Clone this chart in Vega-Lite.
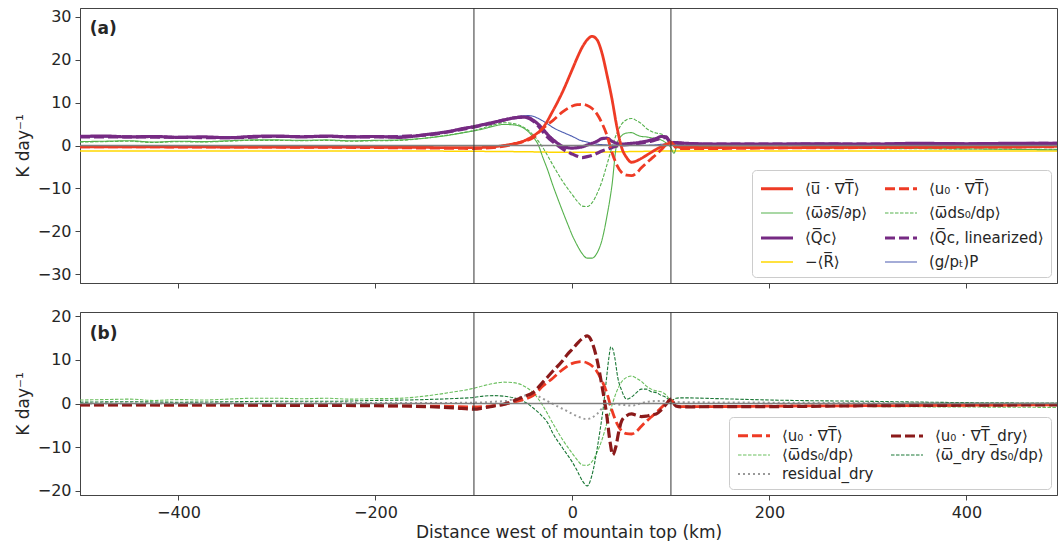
{
  "$schema": "https://vega.github.io/schema/vega-lite/v6.json",
  "padding": {"left": 13, "top": 7, "right": 1, "bottom": 0},
  "spacing": 29,
  "bounds": "flush",
  "config": {
    "font": "DejaVu Sans",
    "view": {"stroke": "#444", "strokeWidth": 1},
    "axis": {"labelFont": "DejaVu Sans", "labelFontSize": 16, "labelColor": "#262626", "titleFont": "DejaVu Sans", "titleFontSize": 17, "titleFontWeight": "normal", "titleColor": "#262626", "domainColor": "#444", "tickColor": "#444", "tickSize": 5, "labelPadding": 4, "titlePadding": 5, "grid": false},
    "legend": {"orient": "bottom-right", "offset": 6, "fillColor": "white", "strokeColor": "#cccccc", "cornerRadius": 4, "padding": 7, "columns": 2, "columnPadding": 10, "rowPadding": 5, "labelFont": "DejaVu Sans", "labelFontSize": 15, "labelColor": "#262626", "symbolType": "M-1,0H2.2", "symbolSize": 400, "labelLimit": 300, "labelOffset": 22}
  },
  "datasets": {
    "a": [
      {"k":"R","x":-500,"v":-1.3},{"k":"R","x":-300,"v":-1.3},{"k":"R","x":-150,"v":-1.3},{"k":"R","x":-100,"v":-1.35},{"k":"R","x":-50,"v":-1.45},{"k":"R","x":0,"v":-1.6},{"k":"R","x":50,"v":-1.45},{"k":"R","x":100,"v":-1.3},{"k":"R","x":200,"v":-1.3},{"k":"R","x":492,"v":-1.3},
      {"k":"gP","x":-500,"v":2.0},{"k":"gP","x":-400,"v":2.0},{"k":"gP","x":-300,"v":2.1},{"k":"gP","x":-200,"v":2.1},{"k":"gP","x":-150,"v":2.4},{"k":"gP","x":-125,"v":3.2},{"k":"gP","x":-100,"v":4.3},{"k":"gP","x":-80,"v":5.3},{"k":"gP","x":-70,"v":5.9},{"k":"gP","x":-60,"v":6.5},{"k":"gP","x":-50,"v":6.9},{"k":"gP","x":-45,"v":6.95},{"k":"gP","x":-40,"v":6.8},{"k":"gP","x":-33,"v":6.1},{"k":"gP","x":-25,"v":5.0},{"k":"gP","x":-20,"v":4.2},{"k":"gP","x":-15,"v":3.6},{"k":"gP","x":-10,"v":3.1},{"k":"gP","x":-5,"v":2.6},{"k":"gP","x":0,"v":2.1},{"k":"gP","x":8,"v":1.2},{"k":"gP","x":15,"v":0.8},{"k":"gP","x":20,"v":0.5},{"k":"gP","x":30,"v":0.2},{"k":"gP","x":40,"v":0.1},{"k":"gP","x":60,"v":0.0},{"k":"gP","x":80,"v":0.1},{"k":"gP","x":100,"v":0.4},{"k":"gP","x":110,"v":0.4},{"k":"gP","x":150,"v":0.3},{"k":"gP","x":200,"v":0.3},{"k":"gP","x":300,"v":0.3},{"k":"gP","x":400,"v":0.4},{"k":"gP","x":492,"v":0.4},
      {"k":"wds","x":-500,"v":0.9},{"k":"wds","x":-475,"v":1.0},{"k":"wds","x":-450,"v":1.1},{"k":"wds","x":-425,"v":0.8},{"k":"wds","x":-400,"v":1.0},{"k":"wds","x":-375,"v":0.9},{"k":"wds","x":-350,"v":1.1},{"k":"wds","x":-325,"v":1.3},{"k":"wds","x":-300,"v":1.3},{"k":"wds","x":-275,"v":1.2},{"k":"wds","x":-250,"v":1.3},{"k":"wds","x":-225,"v":1.1},{"k":"wds","x":-200,"v":1.2},{"k":"wds","x":-175,"v":1.3},{"k":"wds","x":-150,"v":1.7},{"k":"wds","x":-125,"v":2.4},{"k":"wds","x":-110,"v":3.0},{"k":"wds","x":-100,"v":3.4},{"k":"wds","x":-90,"v":3.9},{"k":"wds","x":-80,"v":4.5},{"k":"wds","x":-70,"v":4.9},{"k":"wds","x":-60,"v":4.8},{"k":"wds","x":-50,"v":4.1},{"k":"wds","x":-40,"v":2.0},{"k":"wds","x":-35,"v":0.3},{"k":"wds","x":-30,"v":-2.8},{"k":"wds","x":-25,"v":-5.8},{"k":"wds","x":-20,"v":-9.2},{"k":"wds","x":-15,"v":-12.3},{"k":"wds","x":-10,"v":-15.3},{"k":"wds","x":-5,"v":-18.2},{"k":"wds","x":0,"v":-21.0},{"k":"wds","x":5,"v":-23.3},{"k":"wds","x":10,"v":-25.2},{"k":"wds","x":15,"v":-26.2},{"k":"wds","x":20,"v":-26.2},{"k":"wds","x":25,"v":-25.0},{"k":"wds","x":30,"v":-22.0},{"k":"wds","x":35,"v":-16.5},{"k":"wds","x":40,"v":-9.5},{"k":"wds","x":45,"v":0.3},{"k":"wds","x":50,"v":2.3},{"k":"wds","x":55,"v":2.9},{"k":"wds","x":60,"v":3.0},{"k":"wds","x":65,"v":2.5},{"k":"wds","x":70,"v":2.1},{"k":"wds","x":75,"v":2.0},{"k":"wds","x":80,"v":1.8},{"k":"wds","x":85,"v":1.6},{"k":"wds","x":90,"v":1.3},{"k":"wds","x":95,"v":0.6},{"k":"wds","x":100,"v":-0.5},{"k":"wds","x":103,"v":-1.8},{"k":"wds","x":107,"v":0.2},{"k":"wds","x":112,"v":-0.1},{"k":"wds","x":125,"v":-0.2},{"k":"wds","x":150,"v":-0.3},{"k":"wds","x":200,"v":-0.4},{"k":"wds","x":250,"v":-0.5},{"k":"wds","x":300,"v":-0.6},{"k":"wds","x":350,"v":-0.7},{"k":"wds","x":400,"v":-0.8},{"k":"wds","x":450,"v":-0.9},{"k":"wds","x":492,"v":-1.0},
      {"k":"wds0","x":-500,"v":0.8},{"k":"wds0","x":-475,"v":0.9},{"k":"wds0","x":-450,"v":1.0},{"k":"wds0","x":-425,"v":0.7},{"k":"wds0","x":-400,"v":0.9},{"k":"wds0","x":-375,"v":0.8},{"k":"wds0","x":-350,"v":1.0},{"k":"wds0","x":-325,"v":1.2},{"k":"wds0","x":-300,"v":1.2},{"k":"wds0","x":-275,"v":1.1},{"k":"wds0","x":-250,"v":1.2},{"k":"wds0","x":-225,"v":1.0},{"k":"wds0","x":-200,"v":1.1},{"k":"wds0","x":-175,"v":1.2},{"k":"wds0","x":-150,"v":1.7},{"k":"wds0","x":-125,"v":2.5},{"k":"wds0","x":-100,"v":3.5},{"k":"wds0","x":-90,"v":4.1},{"k":"wds0","x":-80,"v":4.8},{"k":"wds0","x":-70,"v":5.3},{"k":"wds0","x":-60,"v":5.1},{"k":"wds0","x":-50,"v":4.3},{"k":"wds0","x":-40,"v":2.5},{"k":"wds0","x":-30,"v":-0.5},{"k":"wds0","x":-20,"v":-4.5},{"k":"wds0","x":-10,"v":-8.3},{"k":"wds0","x":0,"v":-11.5},{"k":"wds0","x":5,"v":-13.0},{"k":"wds0","x":10,"v":-14.1},{"k":"wds0","x":15,"v":-14.2},{"k":"wds0","x":20,"v":-13.3},{"k":"wds0","x":25,"v":-11.2},{"k":"wds0","x":30,"v":-8.3},{"k":"wds0","x":35,"v":-4.5},{"k":"wds0","x":40,"v":-0.5},{"k":"wds0","x":45,"v":2.8},{"k":"wds0","x":50,"v":5.0},{"k":"wds0","x":55,"v":6.0},{"k":"wds0","x":60,"v":6.3},{"k":"wds0","x":65,"v":5.8},{"k":"wds0","x":70,"v":5.1},{"k":"wds0","x":75,"v":4.0},{"k":"wds0","x":80,"v":3.3},{"k":"wds0","x":85,"v":2.9},{"k":"wds0","x":90,"v":2.7},{"k":"wds0","x":95,"v":2.0},{"k":"wds0","x":100,"v":0.5},{"k":"wds0","x":105,"v":-0.5},{"k":"wds0","x":110,"v":-0.6},{"k":"wds0","x":150,"v":-0.5},{"k":"wds0","x":200,"v":-0.5},{"k":"wds0","x":300,"v":-0.7},{"k":"wds0","x":400,"v":-0.8},{"k":"wds0","x":492,"v":-0.9},
      {"k":"Qcl","x":-500,"v":2.0},{"k":"Qcl","x":-450,"v":2.0},{"k":"Qcl","x":-400,"v":1.9},{"k":"Qcl","x":-350,"v":1.8},{"k":"Qcl","x":-300,"v":2.1},{"k":"Qcl","x":-250,"v":2.1},{"k":"Qcl","x":-200,"v":2.0},{"k":"Qcl","x":-150,"v":2.4},{"k":"Qcl","x":-125,"v":3.2},{"k":"Qcl","x":-100,"v":4.3},{"k":"Qcl","x":-80,"v":5.3},{"k":"Qcl","x":-70,"v":5.9},{"k":"Qcl","x":-60,"v":6.4},{"k":"Qcl","x":-50,"v":6.6},{"k":"Qcl","x":-45,"v":6.4},{"k":"Qcl","x":-40,"v":5.7},{"k":"Qcl","x":-35,"v":4.6},{"k":"Qcl","x":-30,"v":3.2},{"k":"Qcl","x":-25,"v":1.9},{"k":"Qcl","x":-20,"v":0.9},{"k":"Qcl","x":-15,"v":0.0},{"k":"Qcl","x":-10,"v":-0.8},{"k":"Qcl","x":-5,"v":-1.5},{"k":"Qcl","x":0,"v":-2.0},{"k":"Qcl","x":5,"v":-2.5},{"k":"Qcl","x":10,"v":-2.8},{"k":"Qcl","x":15,"v":-2.6},{"k":"Qcl","x":20,"v":-2.3},{"k":"Qcl","x":25,"v":-1.8},{"k":"Qcl","x":30,"v":-1.3},{"k":"Qcl","x":35,"v":-0.9},{"k":"Qcl","x":40,"v":-0.5},{"k":"Qcl","x":45,"v":-0.1},{"k":"Qcl","x":50,"v":0.1},{"k":"Qcl","x":60,"v":0.3},{"k":"Qcl","x":70,"v":0.6},{"k":"Qcl","x":80,"v":1.0},{"k":"Qcl","x":90,"v":1.7},{"k":"Qcl","x":95,"v":1.9},{"k":"Qcl","x":100,"v":0.6},{"k":"Qcl","x":110,"v":0.5},{"k":"Qcl","x":150,"v":0.3},{"k":"Qcl","x":200,"v":0.3},{"k":"Qcl","x":300,"v":0.3},{"k":"Qcl","x":400,"v":0.4},{"k":"Qcl","x":492,"v":0.5},
      {"k":"Qc","x":-500,"v":2.1},{"k":"Qc","x":-475,"v":2.2},{"k":"Qc","x":-450,"v":2.0},{"k":"Qc","x":-425,"v":2.1},{"k":"Qc","x":-400,"v":1.9},{"k":"Qc","x":-375,"v":2.0},{"k":"Qc","x":-350,"v":1.8},{"k":"Qc","x":-325,"v":2.1},{"k":"Qc","x":-300,"v":2.2},{"k":"Qc","x":-275,"v":2.0},{"k":"Qc","x":-250,"v":2.2},{"k":"Qc","x":-225,"v":2.0},{"k":"Qc","x":-200,"v":2.1},{"k":"Qc","x":-175,"v":1.9},{"k":"Qc","x":-160,"v":2.2},{"k":"Qc","x":-150,"v":2.5},{"k":"Qc","x":-125,"v":3.3},{"k":"Qc","x":-110,"v":4.0},{"k":"Qc","x":-100,"v":4.4},{"k":"Qc","x":-90,"v":4.9},{"k":"Qc","x":-80,"v":5.4},{"k":"Qc","x":-70,"v":5.9},{"k":"Qc","x":-60,"v":6.4},{"k":"Qc","x":-50,"v":6.6},{"k":"Qc","x":-45,"v":6.5},{"k":"Qc","x":-40,"v":5.9},{"k":"Qc","x":-35,"v":5.0},{"k":"Qc","x":-30,"v":3.8},{"k":"Qc","x":-25,"v":2.5},{"k":"Qc","x":-20,"v":1.4},{"k":"Qc","x":-15,"v":0.5},{"k":"Qc","x":-10,"v":-0.2},{"k":"Qc","x":-5,"v":-0.5},{"k":"Qc","x":0,"v":-0.6},{"k":"Qc","x":5,"v":-0.5},{"k":"Qc","x":10,"v":-0.3},{"k":"Qc","x":15,"v":0.1},{"k":"Qc","x":20,"v":0.5},{"k":"Qc","x":25,"v":1.0},{"k":"Qc","x":30,"v":1.6},{"k":"Qc","x":35,"v":1.7},{"k":"Qc","x":40,"v":1.0},{"k":"Qc","x":45,"v":0.5},{"k":"Qc","x":50,"v":0.3},{"k":"Qc","x":55,"v":0.4},{"k":"Qc","x":60,"v":0.5},{"k":"Qc","x":65,"v":0.6},{"k":"Qc","x":70,"v":0.8},{"k":"Qc","x":75,"v":1.0},{"k":"Qc","x":80,"v":1.3},{"k":"Qc","x":85,"v":1.6},{"k":"Qc","x":90,"v":2.1},{"k":"Qc","x":95,"v":2.0},{"k":"Qc","x":100,"v":0.6},{"k":"Qc","x":105,"v":0.7},{"k":"Qc","x":110,"v":0.6},{"k":"Qc","x":125,"v":0.4},{"k":"Qc","x":150,"v":0.3},{"k":"Qc","x":200,"v":0.3},{"k":"Qc","x":250,"v":0.4},{"k":"Qc","x":300,"v":0.3},{"k":"Qc","x":350,"v":0.5},{"k":"Qc","x":400,"v":0.4},{"k":"Qc","x":450,"v":0.5},{"k":"Qc","x":492,"v":0.5},
      {"k":"u0T","x":-500,"v":-0.3},{"k":"u0T","x":-400,"v":-0.35},{"k":"u0T","x":-300,"v":-0.4},{"k":"u0T","x":-200,"v":-0.5},{"k":"u0T","x":-150,"v":-0.6},{"k":"u0T","x":-125,"v":-0.65},{"k":"u0T","x":-100,"v":-0.7},{"k":"u0T","x":-80,"v":-0.5},{"k":"u0T","x":-70,"v":-0.2},{"k":"u0T","x":-60,"v":0.3},{"k":"u0T","x":-50,"v":0.9},{"k":"u0T","x":-40,"v":1.8},{"k":"u0T","x":-30,"v":4.0},{"k":"u0T","x":-20,"v":5.8},{"k":"u0T","x":-10,"v":7.8},{"k":"u0T","x":0,"v":9.2},{"k":"u0T","x":5,"v":9.5},{"k":"u0T","x":10,"v":9.6},{"k":"u0T","x":15,"v":9.3},{"k":"u0T","x":20,"v":8.6},{"k":"u0T","x":25,"v":7.3},{"k":"u0T","x":30,"v":5.2},{"k":"u0T","x":35,"v":2.4},{"k":"u0T","x":40,"v":-1.5},{"k":"u0T","x":45,"v":-4.5},{"k":"u0T","x":50,"v":-6.3},{"k":"u0T","x":55,"v":-6.9},{"k":"u0T","x":60,"v":-7.0},{"k":"u0T","x":65,"v":-6.4},{"k":"u0T","x":70,"v":-5.2},{"k":"u0T","x":75,"v":-4.1},{"k":"u0T","x":80,"v":-3.1},{"k":"u0T","x":85,"v":-2.1},{"k":"u0T","x":90,"v":-1.0},{"k":"u0T","x":95,"v":0.1},{"k":"u0T","x":100,"v":0.8},{"k":"u0T","x":105,"v":-0.5},{"k":"u0T","x":110,"v":-0.7},{"k":"u0T","x":150,"v":-0.7},{"k":"u0T","x":200,"v":-0.6},{"k":"u0T","x":300,"v":-0.5},{"k":"u0T","x":400,"v":-0.4},{"k":"u0T","x":492,"v":-0.3},
      {"k":"uT","x":-500,"v":-0.3},{"k":"uT","x":-450,"v":-0.3},{"k":"uT","x":-400,"v":-0.3},{"k":"uT","x":-350,"v":-0.35},{"k":"uT","x":-300,"v":-0.35},{"k":"uT","x":-250,"v":-0.4},{"k":"uT","x":-200,"v":-0.4},{"k":"uT","x":-150,"v":-0.45},{"k":"uT","x":-125,"v":-0.5},{"k":"uT","x":-100,"v":-0.5},{"k":"uT","x":-80,"v":-0.3},{"k":"uT","x":-70,"v":0.0},{"k":"uT","x":-60,"v":0.4},{"k":"uT","x":-50,"v":1.0},{"k":"uT","x":-40,"v":2.2},{"k":"uT","x":-30,"v":4.1},{"k":"uT","x":-20,"v":8.0},{"k":"uT","x":-10,"v":12.5},{"k":"uT","x":0,"v":17.8},{"k":"uT","x":5,"v":20.5},{"k":"uT","x":10,"v":22.9},{"k":"uT","x":15,"v":24.6},{"k":"uT","x":20,"v":25.4},{"k":"uT","x":25,"v":24.6},{"k":"uT","x":30,"v":21.5},{"k":"uT","x":35,"v":16.5},{"k":"uT","x":40,"v":11.0},{"k":"uT","x":45,"v":4.5},{"k":"uT","x":50,"v":-0.5},{"k":"uT","x":55,"v":-2.8},{"k":"uT","x":60,"v":-3.9},{"k":"uT","x":65,"v":-3.6},{"k":"uT","x":70,"v":-3.0},{"k":"uT","x":75,"v":-2.3},{"k":"uT","x":80,"v":-1.6},{"k":"uT","x":85,"v":-0.9},{"k":"uT","x":90,"v":-0.3},{"k":"uT","x":95,"v":0.3},{"k":"uT","x":100,"v":0.5},{"k":"uT","x":105,"v":-0.2},{"k":"uT","x":110,"v":-0.4},{"k":"uT","x":150,"v":-0.5},{"k":"uT","x":200,"v":-0.5},{"k":"uT","x":250,"v":-0.45},{"k":"uT","x":300,"v":-0.4},{"k":"uT","x":350,"v":-0.4},{"k":"uT","x":400,"v":-0.3},{"k":"uT","x":450,"v":-0.3},{"k":"uT","x":492,"v":-0.2}
    ],
    "b": [
      {"k":"res","x":-500,"v":0.0},{"k":"res","x":-400,"v":0.0},{"k":"res","x":-300,"v":0.0},{"k":"res","x":-200,"v":0.1},{"k":"res","x":-150,"v":0.1},{"k":"res","x":-100,"v":0.2},{"k":"res","x":-80,"v":0.4},{"k":"res","x":-67,"v":0.6},{"k":"res","x":-60,"v":1.0},{"k":"res","x":-53,"v":1.5},{"k":"res","x":-45,"v":2.0},{"k":"res","x":-40,"v":2.1},{"k":"res","x":-35,"v":1.7},{"k":"res","x":-30,"v":1.1},{"k":"res","x":-26,"v":0.6},{"k":"res","x":-20,"v":-0.1},{"k":"res","x":-13,"v":-0.9},{"k":"res","x":-5,"v":-1.8},{"k":"res","x":0,"v":-2.4},{"k":"res","x":8,"v":-3.2},{"k":"res","x":14,"v":-3.6},{"k":"res","x":20,"v":-3.2},{"k":"res","x":25,"v":-2.4},{"k":"res","x":31,"v":-0.9},{"k":"res","x":36,"v":-0.3},{"k":"res","x":41,"v":-0.1},{"k":"res","x":50,"v":-0.3},{"k":"res","x":61,"v":-0.5},{"k":"res","x":66,"v":-0.2},{"k":"res","x":72,"v":0.2},{"k":"res","x":80,"v":0.5},{"k":"res","x":90,"v":0.6},{"k":"res","x":100,"v":0.4},{"k":"res","x":110,"v":0.3},{"k":"res","x":200,"v":0.2},{"k":"res","x":300,"v":0.1},{"k":"res","x":492,"v":0.0},
      {"k":"wds0","x":-500,"v":0.8},{"k":"wds0","x":-475,"v":0.9},{"k":"wds0","x":-450,"v":1.0},{"k":"wds0","x":-425,"v":0.7},{"k":"wds0","x":-400,"v":0.9},{"k":"wds0","x":-375,"v":0.8},{"k":"wds0","x":-350,"v":1.0},{"k":"wds0","x":-325,"v":1.2},{"k":"wds0","x":-300,"v":1.2},{"k":"wds0","x":-275,"v":1.1},{"k":"wds0","x":-250,"v":1.2},{"k":"wds0","x":-225,"v":1.0},{"k":"wds0","x":-200,"v":1.1},{"k":"wds0","x":-175,"v":1.2},{"k":"wds0","x":-150,"v":1.7},{"k":"wds0","x":-125,"v":2.5},{"k":"wds0","x":-100,"v":3.5},{"k":"wds0","x":-90,"v":4.1},{"k":"wds0","x":-80,"v":4.6},{"k":"wds0","x":-70,"v":4.9},{"k":"wds0","x":-60,"v":4.8},{"k":"wds0","x":-50,"v":4.1},{"k":"wds0","x":-40,"v":2.5},{"k":"wds0","x":-30,"v":-0.5},{"k":"wds0","x":-20,"v":-4.5},{"k":"wds0","x":-10,"v":-8.3},{"k":"wds0","x":0,"v":-11.5},{"k":"wds0","x":5,"v":-13.0},{"k":"wds0","x":10,"v":-14.1},{"k":"wds0","x":15,"v":-14.2},{"k":"wds0","x":20,"v":-13.3},{"k":"wds0","x":25,"v":-11.2},{"k":"wds0","x":30,"v":-8.3},{"k":"wds0","x":35,"v":-4.5},{"k":"wds0","x":40,"v":-0.5},{"k":"wds0","x":45,"v":2.8},{"k":"wds0","x":50,"v":5.0},{"k":"wds0","x":55,"v":6.0},{"k":"wds0","x":60,"v":6.3},{"k":"wds0","x":65,"v":5.8},{"k":"wds0","x":70,"v":5.1},{"k":"wds0","x":75,"v":4.0},{"k":"wds0","x":80,"v":3.3},{"k":"wds0","x":85,"v":2.9},{"k":"wds0","x":90,"v":2.7},{"k":"wds0","x":95,"v":2.0},{"k":"wds0","x":100,"v":0.5},{"k":"wds0","x":105,"v":-0.5},{"k":"wds0","x":110,"v":-0.6},{"k":"wds0","x":150,"v":-0.5},{"k":"wds0","x":200,"v":-0.5},{"k":"wds0","x":300,"v":-0.7},{"k":"wds0","x":400,"v":-0.8},{"k":"wds0","x":492,"v":-0.9},
      {"k":"wds0d","x":-500,"v":0.3},{"k":"wds0d","x":-450,"v":0.4},{"k":"wds0d","x":-400,"v":0.3},{"k":"wds0d","x":-350,"v":0.4},{"k":"wds0d","x":-300,"v":0.5},{"k":"wds0d","x":-250,"v":0.5},{"k":"wds0d","x":-200,"v":0.7},{"k":"wds0d","x":-150,"v":0.9},{"k":"wds0d","x":-125,"v":1.1},{"k":"wds0d","x":-100,"v":1.4},{"k":"wds0d","x":-90,"v":1.7},{"k":"wds0d","x":-80,"v":1.8},{"k":"wds0d","x":-70,"v":1.7},{"k":"wds0d","x":-60,"v":1.3},{"k":"wds0d","x":-50,"v":0.5},{"k":"wds0d","x":-45,"v":-0.1},{"k":"wds0d","x":-40,"v":-1.0},{"k":"wds0d","x":-33,"v":-2.4},{"k":"wds0d","x":-25,"v":-4.5},{"k":"wds0d","x":-20,"v":-6.8},{"k":"wds0d","x":-10,"v":-10.2},{"k":"wds0d","x":0,"v":-13.5},{"k":"wds0d","x":5,"v":-15.5},{"k":"wds0d","x":10,"v":-17.7},{"k":"wds0d","x":15,"v":-18.9},{"k":"wds0d","x":20,"v":-16.3},{"k":"wds0d","x":25,"v":-10.5},{"k":"wds0d","x":28,"v":-6.2},{"k":"wds0d","x":31,"v":-1.5},{"k":"wds0d","x":34,"v":4.5},{"k":"wds0d","x":37,"v":10.5},{"k":"wds0d","x":39,"v":13.0},{"k":"wds0d","x":41,"v":12.5},{"k":"wds0d","x":43,"v":10.5},{"k":"wds0d","x":46,"v":6.0},{"k":"wds0d","x":50,"v":3.0},{"k":"wds0d","x":55,"v":1.0},{"k":"wds0d","x":60,"v":1.5},{"k":"wds0d","x":65,"v":2.5},{"k":"wds0d","x":70,"v":3.3},{"k":"wds0d","x":75,"v":3.3},{"k":"wds0d","x":80,"v":2.7},{"k":"wds0d","x":85,"v":2.5},{"k":"wds0d","x":90,"v":1.9},{"k":"wds0d","x":95,"v":1.4},{"k":"wds0d","x":100,"v":0.6},{"k":"wds0d","x":105,"v":1.2},{"k":"wds0d","x":110,"v":1.3},{"k":"wds0d","x":150,"v":1.1},{"k":"wds0d","x":200,"v":0.8},{"k":"wds0d","x":300,"v":0.5},{"k":"wds0d","x":400,"v":0.2},{"k":"wds0d","x":492,"v":0.1},
      {"k":"u0T","x":-500,"v":-0.3},{"k":"u0T","x":-400,"v":-0.35},{"k":"u0T","x":-300,"v":-0.4},{"k":"u0T","x":-200,"v":-0.5},{"k":"u0T","x":-150,"v":-0.6},{"k":"u0T","x":-125,"v":-0.65},{"k":"u0T","x":-100,"v":-0.8},{"k":"u0T","x":-80,"v":-0.5},{"k":"u0T","x":-70,"v":-0.2},{"k":"u0T","x":-60,"v":0.3},{"k":"u0T","x":-50,"v":0.9},{"k":"u0T","x":-40,"v":1.8},{"k":"u0T","x":-30,"v":4.0},{"k":"u0T","x":-20,"v":5.8},{"k":"u0T","x":-10,"v":7.8},{"k":"u0T","x":0,"v":9.2},{"k":"u0T","x":5,"v":9.5},{"k":"u0T","x":10,"v":9.6},{"k":"u0T","x":15,"v":9.3},{"k":"u0T","x":20,"v":8.6},{"k":"u0T","x":25,"v":7.3},{"k":"u0T","x":30,"v":5.2},{"k":"u0T","x":35,"v":2.4},{"k":"u0T","x":40,"v":-1.5},{"k":"u0T","x":45,"v":-4.5},{"k":"u0T","x":50,"v":-6.3},{"k":"u0T","x":55,"v":-6.9},{"k":"u0T","x":60,"v":-7.0},{"k":"u0T","x":65,"v":-6.4},{"k":"u0T","x":70,"v":-5.2},{"k":"u0T","x":75,"v":-4.1},{"k":"u0T","x":80,"v":-3.1},{"k":"u0T","x":85,"v":-2.1},{"k":"u0T","x":90,"v":-1.0},{"k":"u0T","x":95,"v":0.1},{"k":"u0T","x":100,"v":0.8},{"k":"u0T","x":105,"v":-0.5},{"k":"u0T","x":110,"v":-0.7},{"k":"u0T","x":150,"v":-0.7},{"k":"u0T","x":200,"v":-0.6},{"k":"u0T","x":300,"v":-0.5},{"k":"u0T","x":400,"v":-0.4},{"k":"u0T","x":492,"v":-0.3},
      {"k":"u0Td","x":-500,"v":-0.3},{"k":"u0Td","x":-400,"v":-0.3},{"k":"u0Td","x":-300,"v":-0.4},{"k":"u0Td","x":-200,"v":-0.5},{"k":"u0Td","x":-150,"v":-0.7},{"k":"u0Td","x":-120,"v":-1.0},{"k":"u0Td","x":-100,"v":-1.3},{"k":"u0Td","x":-90,"v":-1.0},{"k":"u0Td","x":-80,"v":-0.6},{"k":"u0Td","x":-70,"v":-0.2},{"k":"u0Td","x":-60,"v":0.6},{"k":"u0Td","x":-50,"v":1.5},{"k":"u0Td","x":-40,"v":2.5},{"k":"u0Td","x":-30,"v":4.9},{"k":"u0Td","x":-20,"v":7.4},{"k":"u0Td","x":-10,"v":9.8},{"k":"u0Td","x":-5,"v":11.3},{"k":"u0Td","x":0,"v":12.5},{"k":"u0Td","x":5,"v":13.8},{"k":"u0Td","x":10,"v":14.9},{"k":"u0Td","x":15,"v":15.5},{"k":"u0Td","x":20,"v":14.0},{"k":"u0Td","x":25,"v":10.0},{"k":"u0Td","x":30,"v":4.0},{"k":"u0Td","x":35,"v":-3.0},{"k":"u0Td","x":38,"v":-8.5},{"k":"u0Td","x":41,"v":-11.8},{"k":"u0Td","x":44,"v":-10.0},{"k":"u0Td","x":47,"v":-6.5},{"k":"u0Td","x":50,"v":-4.0},{"k":"u0Td","x":55,"v":-2.8},{"k":"u0Td","x":60,"v":-2.4},{"k":"u0Td","x":65,"v":-2.7},{"k":"u0Td","x":70,"v":-3.0},{"k":"u0Td","x":75,"v":-2.9},{"k":"u0Td","x":80,"v":-2.6},{"k":"u0Td","x":85,"v":-2.4},{"k":"u0Td","x":90,"v":-1.5},{"k":"u0Td","x":95,"v":-0.2},{"k":"u0Td","x":100,"v":1.0},{"k":"u0Td","x":105,"v":-0.6},{"k":"u0Td","x":110,"v":-0.8},{"k":"u0Td","x":150,"v":-0.7},{"k":"u0Td","x":200,"v":-0.7},{"k":"u0Td","x":300,"v":-0.5},{"k":"u0Td","x":400,"v":-0.4},{"k":"u0Td","x":492,"v":-0.3}
    ]
  },
  "resolve": {"scale": {"color": "independent", "strokeDash": "independent", "strokeWidth": "independent", "y": "independent"}, "legend": {"color": "independent", "strokeDash": "independent", "strokeWidth": "independent"}},
  "vconcat": [
    {
      "width": 977,
      "height": 275,
      "layer": [
        {
          "data": {"name": "a"},
          "mark": {"type": "line", "interpolate": "monotone"},
          "encoding": {
            "x": {"field": "x", "type": "quantitative", "scale": {"domain": [-500, 492], "nice": false, "zero": false}, "axis": {"values": [-400, -200, 0, 200, 400], "labels": false, "title": null}},
            "y": {"field": "v", "type": "quantitative", "scale": {"domain": [-32, 32], "nice": false, "zero": false}, "axis": {"values": [-30, -20, -10, 0, 10, 20, 30], "title": "K day⁻¹", "labelExpr": "replace(datum.label, '-', '−')"}},
            "color": {"field": "k", "type": "nominal", "scale": {"domain": ["uT", "wds", "Qc", "R", "u0T", "wds0", "Qcl", "gP"], "range": ["#ee3b25", "#55b14c", "#762a83", "#ffd700", "#ee3b25", "#55b14c", "#762a83", "#4a5ab0"]}, "legend": {"title": null, "labelExpr": "datum.label=='uT'?'⟨u̅ · ∇T̅⟩':datum.label=='u0T'?'⟨u₀ · ∇T̅⟩':datum.label=='wds'?'⟨ω̅∂s̅/∂p⟩':datum.label=='wds0'?'⟨ω̅ds₀/dp⟩':datum.label=='Qc'?'⟨Q̅c⟩':datum.label=='Qcl'?'⟨Q̅c, linearized⟩':datum.label=='R'?'−⟨R̅⟩':'(g/pₜ)P'"}},
            "strokeDash": {"field": "k", "type": "nominal", "scale": {"domain": ["uT", "wds", "Qc", "R", "u0T", "wds0", "Qcl", "gP"], "range": [[1, 0], [1, 0], [1, 0], [1, 0], [10, 4], [3.5, 1.5], [10, 4], [1, 0]]}, "legend": {"title": null, "labelExpr": "datum.label=='uT'?'⟨u̅ · ∇T̅⟩':datum.label=='u0T'?'⟨u₀ · ∇T̅⟩':datum.label=='wds'?'⟨ω̅∂s̅/∂p⟩':datum.label=='wds0'?'⟨ω̅ds₀/dp⟩':datum.label=='Qc'?'⟨Q̅c⟩':datum.label=='Qcl'?'⟨Q̅c, linearized⟩':datum.label=='R'?'−⟨R̅⟩':'(g/pₜ)P'"}},
            "strokeWidth": {"field": "k", "type": "nominal", "scale": {"type": "ordinal", "domain": ["uT", "wds", "Qc", "R", "u0T", "wds0", "Qcl", "gP"], "range": [2.8, 1.1, 3.2, 1.5, 2.8, 1.1, 3.2, 1.1]}, "legend": {"title": null, "labelExpr": "datum.label=='uT'?'⟨u̅ · ∇T̅⟩':datum.label=='u0T'?'⟨u₀ · ∇T̅⟩':datum.label=='wds'?'⟨ω̅∂s̅/∂p⟩':datum.label=='wds0'?'⟨ω̅ds₀/dp⟩':datum.label=='Qc'?'⟨Q̅c⟩':datum.label=='Qcl'?'⟨Q̅c, linearized⟩':datum.label=='R'?'−⟨R̅⟩':'(g/pₜ)P'"}}
          }
        },
        {
          "data": {"values": [{"y": 0}]},
          "mark": {"type": "rule", "color": "#808080", "strokeWidth": 1.5},
          "encoding": {"y": {"field": "y", "type": "quantitative"}}
        },
        {
          "data": {"values": [{"x": -100}, {"x": 100}]},
          "mark": {"type": "rule", "color": "#333333", "strokeWidth": 1},
          "encoding": {"x": {"field": "x", "type": "quantitative"}}
        },
        {
          "data": {"values": [{"x": -490, "v": 27, "t": "(a)"}]},
          "mark": {"type": "text", "align": "left", "baseline": "middle", "fontSize": 17, "fontWeight": "bold", "color": "#262626"},
          "encoding": {"x": {"field": "x", "type": "quantitative"}, "y": {"field": "v", "type": "quantitative"}, "text": {"field": "t"}}
        }
      ]
    },
    {
      "width": 977,
      "height": 183,
      "layer": [
        {
          "data": {"name": "b"},
          "mark": {"type": "line", "interpolate": "monotone"},
          "encoding": {
            "x": {"field": "x", "type": "quantitative", "scale": {"domain": [-500, 492], "nice": false, "zero": false}, "axis": {"values": [-400, -200, 0, 200, 400], "title": "Distance west of mountain top (km)", "labelExpr": "replace(datum.label, '-', '−')", "titlePadding": 4}},
            "y": {"field": "v", "type": "quantitative", "scale": {"domain": [-21, 21], "nice": false, "zero": false}, "axis": {"values": [-20, -10, 0, 10, 20], "title": "K day⁻¹", "labelExpr": "replace(datum.label, '-', '−')"}},
            "color": {"field": "k", "type": "nominal", "scale": {"domain": ["u0T", "wds0", "res", "u0Td", "wds0d"], "range": ["#ee3b25", "#6abf5e", "#999999", "#8b1a1a", "#1b7837"]}, "legend": {"title": null, "rowPadding": 0, "labelExpr": "datum.label=='u0T'?'⟨u₀ · ∇T̅⟩':datum.label=='u0Td'?'⟨u₀ · ∇T̅_dry⟩':datum.label=='wds0'?'⟨ω̅ds₀/dp⟩':datum.label=='wds0d'?'⟨ω̅_dry ds₀/dp⟩':'residual_dry'"}},
            "strokeDash": {"field": "k", "type": "nominal", "scale": {"domain": ["u0T", "wds0", "res", "u0Td", "wds0d"], "range": [[10, 4], [3.5, 1.5], [2, 3], [10, 4], [3.5, 1.5]]}, "legend": {"title": null, "rowPadding": 0, "labelExpr": "datum.label=='u0T'?'⟨u₀ · ∇T̅⟩':datum.label=='u0Td'?'⟨u₀ · ∇T̅_dry⟩':datum.label=='wds0'?'⟨ω̅ds₀/dp⟩':datum.label=='wds0d'?'⟨ω̅_dry ds₀/dp⟩':'residual_dry'"}},
            "strokeWidth": {"field": "k", "type": "nominal", "scale": {"type": "ordinal", "domain": ["u0T", "wds0", "res", "u0Td", "wds0d"], "range": [2.8, 1.1, 2, 3.2, 1.1]}, "legend": {"title": null, "rowPadding": 0, "labelExpr": "datum.label=='u0T'?'⟨u₀ · ∇T̅⟩':datum.label=='u0Td'?'⟨u₀ · ∇T̅_dry⟩':datum.label=='wds0'?'⟨ω̅ds₀/dp⟩':datum.label=='wds0d'?'⟨ω̅_dry ds₀/dp⟩':'residual_dry'"}}
          }
        },
        {
          "data": {"values": [{"y": 0}]},
          "mark": {"type": "rule", "color": "#808080", "strokeWidth": 1.5},
          "encoding": {"y": {"field": "y", "type": "quantitative"}}
        },
        {
          "data": {"values": [{"x": -100}, {"x": 100}]},
          "mark": {"type": "rule", "color": "#333333", "strokeWidth": 1},
          "encoding": {"x": {"field": "x", "type": "quantitative"}}
        },
        {
          "data": {"values": [{"x": -490, "v": 15.9, "t": "(b)"}]},
          "mark": {"type": "text", "align": "left", "baseline": "middle", "fontSize": 17, "fontWeight": "bold", "color": "#262626"},
          "encoding": {"x": {"field": "x", "type": "quantitative"}, "y": {"field": "v", "type": "quantitative"}, "text": {"field": "t"}}
        }
      ]
    }
  ]
}
